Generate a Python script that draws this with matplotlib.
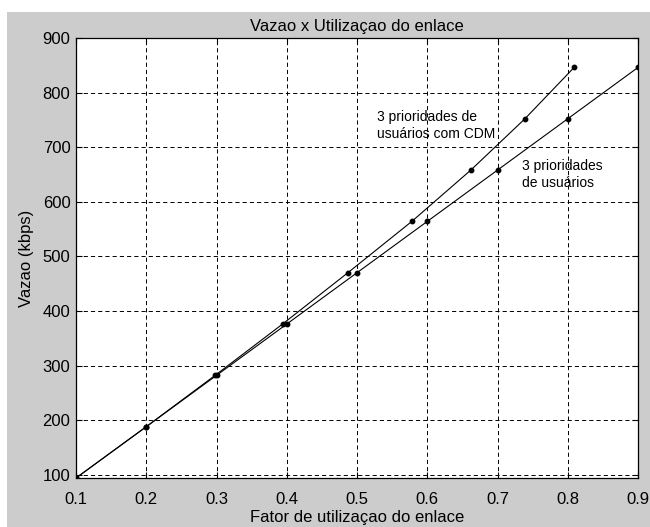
import matplotlib
matplotlib.use("Agg")
import matplotlib.pyplot as plt
from matplotlib.patches import Rectangle

# data
vazao = [94, 188, 282, 376, 470, 564, 658, 752, 846]
fator_sem_cdm = [0.1, 0.2, 0.3, 0.4, 0.5, 0.6, 0.7, 0.8, 0.9]
fator_com_cdm = [0.1, 0.2, 0.298, 0.394, 0.487, 0.578, 0.662, 0.739, 0.809]
xticks = [0.1, 0.2, 0.3, 0.4, 0.5, 0.6, 0.7, 0.8, 0.9]
yticks = [100, 200, 300, 400, 500, 600, 700, 800, 900]

plt.rcParams['font.family'] = ['Liberation Sans', 'DejaVu Sans']
plt.rcParams['lines.scale_dashes'] = False

fig = plt.figure(figsize=(6.5, 5.27), dpi=100, facecolor='white')
# gray window area (screenshot has a thin white margin top and left)
fig.patches.append(Rectangle((7 / 650, 0), 1, 1 - 12 / 527, transform=fig.transFigure,
                             facecolor='#cccccc', edgecolor='none', zorder=-10))

ax = fig.add_axes([0.117, 0.093, 0.8646, 0.835])
ax.set_facecolor('white')

ax.plot(fator_com_cdm, vazao, color='black', lw=0.8, marker='o', ms=3.2)
ax.plot(fator_sem_cdm, vazao, color='black', lw=0.8, marker='o', ms=3.2)

ax.set_xlim(0.1, 0.9)
ax.set_ylim(94, 900)
ax.set_xticks(xticks)
ax.set_xticklabels([f"{v:g}" for v in xticks])
ax.set_yticks(yticks)

ax.grid(True, color='black', linestyle=(0, (3, 2.2)), lw=0.7)
ax.tick_params(direction='in', length=4, width=0.8, top=True, right=True,
               labelsize=12, colors='black')
ax.tick_params(axis='x', pad=10)
ax.tick_params(axis='y', pad=4)
for s in ax.spines.values():
    s.set_linewidth(0.9)
    s.set_color('black')

ax.text(0.528, 739, "3 prioridades de\nusuários com CDM", fontsize=10,
        va='center', ha='left', linespacing=1.3)
ax.text(0.735, 650, "3 prioridades\nde usuários", fontsize=10,
        va='center', ha='left', linespacing=1.3)

ax.set_title("Vazao x Utilizaçao do enlace", fontsize=12, pad=5)
ax.set_xlabel("Fator de utilizaçao do enlace", fontsize=12, labelpad=2)
ax.set_ylabel("Vazao (kbps)", fontsize=12, labelpad=6)

fig.savefig("out.png", dpi=100, facecolor=fig.get_facecolor())
